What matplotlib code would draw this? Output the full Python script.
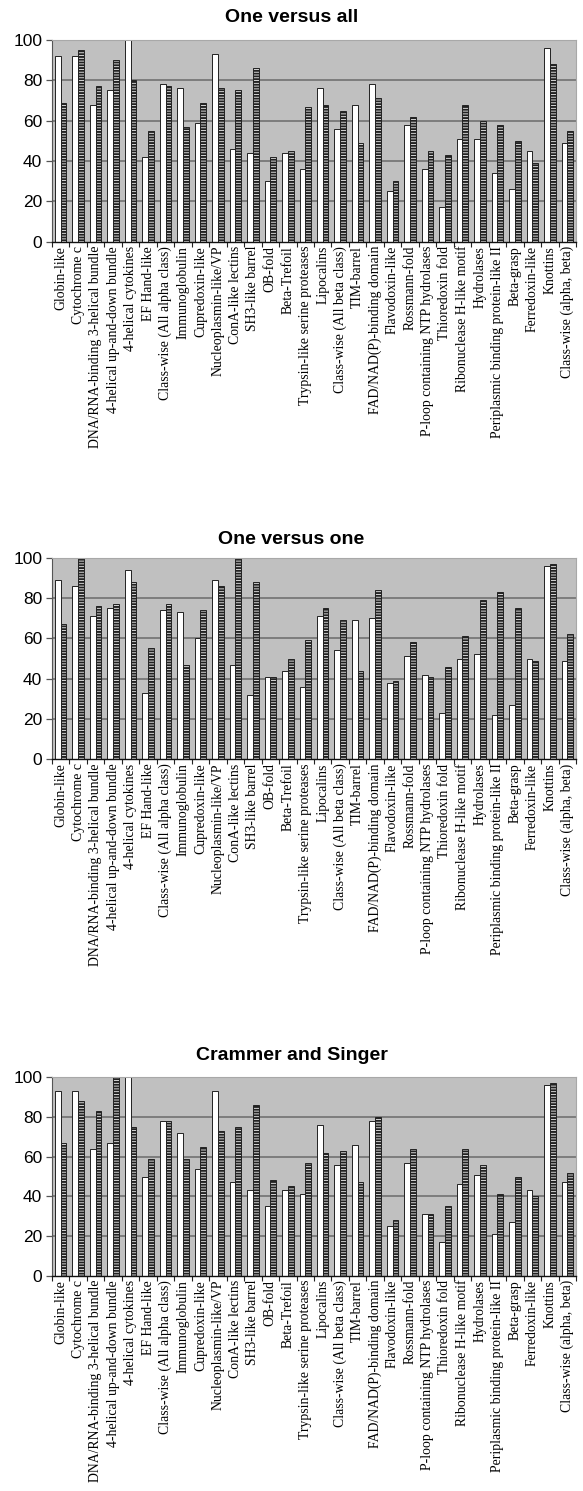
import numpy as np
import matplotlib
matplotlib.use('Agg')
import matplotlib.pyplot as plt

categories = ['Globin-like', 'Cytochrome c', 'DNA/RNA-binding 3-helical bundle',
              '4-helical up-and-down bundle', '4-helical cytokines', 'EF Hand-like',
              'Class-wise (All alpha class)', 'Immunoglobulin', 'Cupredoxin-like',
              'Nucleoplasmin-like/VP', 'ConA-like lectins', 'SH3-like barrel',
              'OB-fold', 'Beta-Trefoil', 'Trypsin-like serine proteases', 'Lipocalins',
              'Class-wise (All beta class)', 'TIM-barrel', 'FAD/NAD(P)-binding domain',
              'Flavodoxin-like', 'Rossmann-fold', 'P-loop containing NTP hydrolases',
              'Thioredoxin fold', 'Ribonuclease H-like motif', 'Hydrolases',
              'Periplasmic binding protein-like II', 'Beta-grasp', 'Ferredoxin-like',
              'Knottins', 'Class-wise (alpha, beta)']

titles = ['One versus all', 'One versus one', 'Crammer and Singer']

ova_white = [92, 92, 68, 75, 100, 42, 78, 76, 59, 93, 46, 44, 30, 44, 36, 76,
             56, 68, 78, 25, 58, 36, 17, 51, 51, 34, 26, 45, 96, 49]
ova_hatch = [69, 95, 77, 90, 80, 55, 77, 57, 69, 76, 75, 86, 42, 45, 67, 68,
             65, 49, 71, 30, 62, 45, 43, 68, 60, 58, 50, 39, 88, 55]

ovo_white = [89, 86, 71, 75, 94, 33, 74, 73, 60, 89, 47, 32, 41, 44, 36, 71,
             54, 69, 70, 38, 51, 42, 23, 50, 52, 22, 27, 50, 96, 49]
ovo_hatch = [67, 100, 76, 77, 88, 55, 77, 47, 74, 86, 100, 88, 41, 50, 59, 75,
             69, 44, 84, 39, 58, 41, 46, 61, 79, 83, 75, 49, 97, 62]

cs_white = [93, 93, 64, 67, 100, 50, 78, 72, 54, 93, 47, 43, 35, 43, 41, 76,
            56, 66, 78, 25, 57, 31, 17, 46, 51, 21, 27, 43, 96, 47]
cs_hatch = [67, 88, 83, 100, 75, 59, 78, 59, 65, 73, 75, 86, 48, 45, 57, 62,
            63, 47, 80, 28, 64, 31, 35, 64, 56, 41, 50, 40, 97, 52]

series = [(ova_white, ova_hatch), (ovo_white, ovo_hatch), (cs_white, cs_hatch)]

W, H = 583, 1491
fig = plt.figure(figsize=(W / 100, H / 100), dpi=100)
plt.rcParams['hatch.linewidth'] = 1.4
plt.rcParams['hatch.color'] = '#1e1e1e'

# axes boxes in pixels: (top, bottom)
boxes = [(40, 241.7), (557.7, 759.3), (1077.3, 1275.7)]
title_y = [18, 540, 1055]
left, right = 52, 576

x = np.arange(len(categories))
w = 0.33

for k, ((top, bot), (white, hatch)) in enumerate(zip(boxes, series)):
    ax = fig.add_axes([left / W, 1 - bot / H, (right - left) / W, (bot - top) / H])
    ax.set_facecolor('#c0c0c0')
    for g in [20, 40, 60, 80]:
        ax.axhline(g, color='#6a6a6a', linewidth=1.1, zorder=1)
    ax.bar(x - w / 2, white, width=w, color='white', edgecolor='#222222',
           linewidth=0.7, zorder=2)
    ax.bar(x + w / 2, hatch, width=w, color='#f2f2f2', edgecolor='#222222',
           linewidth=0.7, hatch='------', zorder=2)
    ax.set_xlim(-0.5, len(categories) - 0.5)
    ax.set_ylim(0, 100)
    ax.set_yticks(range(0, 101, 20))
    ax.set_xticks(x)
    ax.set_xticklabels(categories, rotation=90, family='Liberation Serif',
                       fontsize=9.9, va='top', ha='center')
    ax.set_xticks(np.arange(-0.5, len(categories), 1), minor=True)
    ax.tick_params(axis='x', which='major', length=0, pad=3)
    ax.tick_params(axis='x', which='minor', length=3.5, width=0.8, direction='out',
                   color='#222222')
    ax.tick_params(axis='y', length=4, width=0.9, direction='out', pad=3,
                   labelsize=12.5, color='#555555')
    for lab in ax.get_yticklabels():
        lab.set_family('Liberation Sans')
    ax.spines['left'].set_color('#555555')
    ax.spines['bottom'].set_color('#111111')
    ax.spines['bottom'].set_linewidth(1.0)
    ax.spines['top'].set_color('#a8a8a8')
    ax.spines['right'].set_color('#a8a8a8')
    fig.text(0.5, 1 - title_y[k] / H, titles[k], ha='center', va='center',
             fontsize=14, fontweight='bold', family='Liberation Sans')

fig.savefig('out.png', dpi=100)
